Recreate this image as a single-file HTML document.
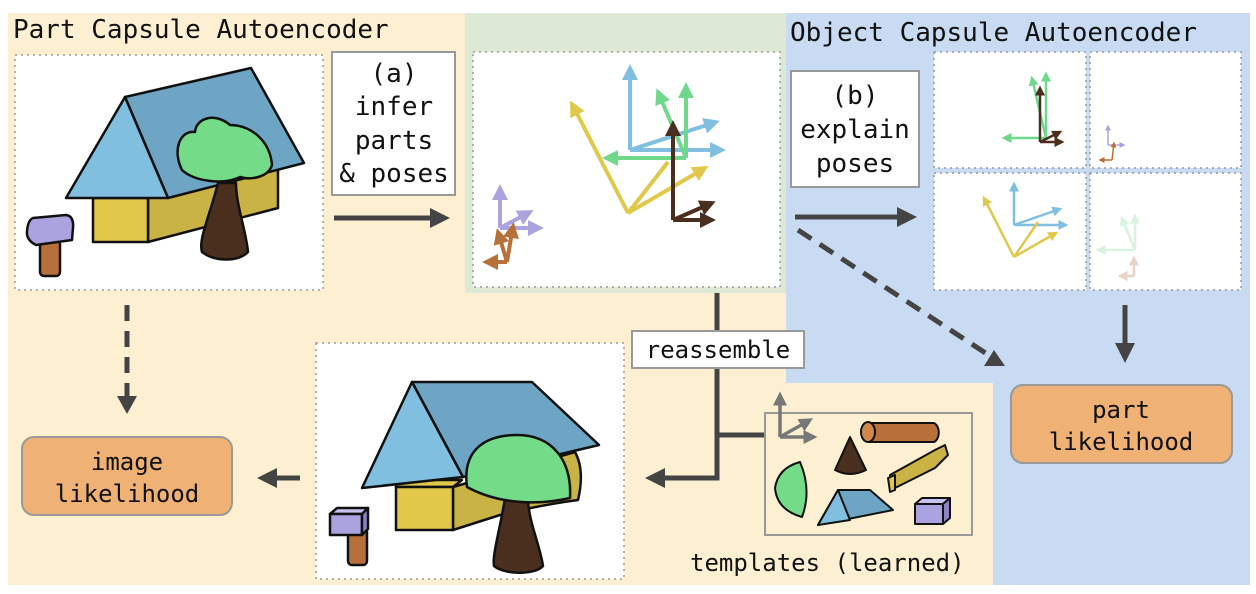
<!DOCTYPE html>
<html><head><meta charset="utf-8"><style>
body{margin:0;background:#fff;}
svg{display:block;}
text{font-family:"DejaVu Sans Mono","Liberation Mono",monospace;fill:#111;}
</style></head><body>
<svg width="1256" height="594" viewBox="0 0 1256 594" xmlns="http://www.w3.org/2000/svg">
<defs>
<marker id="mk" markerWidth="4" markerHeight="4" refX="3" refY="2" orient="auto" markerUnits="strokeWidth"><path d="M0,0L4,2L0,4z" fill="#444"/></marker>
<marker id="mb" markerWidth="4" markerHeight="4" refX="3" refY="2" orient="auto" markerUnits="strokeWidth"><path d="M0,0L4,2L0,4z" fill="#80bfe0"/></marker>
<marker id="mg" markerWidth="4" markerHeight="4" refX="3" refY="2" orient="auto" markerUnits="strokeWidth"><path d="M0,0L4,2L0,4z" fill="#6fd88a"/></marker>
<marker id="my" markerWidth="4" markerHeight="4" refX="3" refY="2" orient="auto" markerUnits="strokeWidth"><path d="M0,0L4,2L0,4z" fill="#e0c84a"/></marker>
<marker id="md" markerWidth="4" markerHeight="4" refX="3" refY="2" orient="auto" markerUnits="strokeWidth"><path d="M0,0L4,2L0,4z" fill="#4a2e1e"/></marker>
<marker id="mp" markerWidth="4" markerHeight="4" refX="3" refY="2" orient="auto" markerUnits="strokeWidth"><path d="M0,0L4,2L0,4z" fill="#aba3e0"/></marker>
<marker id="mo" markerWidth="4" markerHeight="4" refX="3" refY="2" orient="auto" markerUnits="strokeWidth"><path d="M0,0L4,2L0,4z" fill="#b8703a"/></marker>
<marker id="mgf" markerWidth="4" markerHeight="4" refX="3" refY="2" orient="auto" markerUnits="strokeWidth"><path d="M0,0L4,2L0,4z" fill="#d8f3df"/></marker>
<marker id="mof" markerWidth="4" markerHeight="4" refX="3" refY="2" orient="auto" markerUnits="strokeWidth"><path d="M0,0L4,2L0,4z" fill="#e8d3c6"/></marker>
<marker id="mgr" markerWidth="4" markerHeight="4" refX="3" refY="2" orient="auto" markerUnits="strokeWidth"><path d="M0,0L4,2L0,4z" fill="#777"/></marker>
</defs>
<rect x="8" y="13" width="1242" height="572" fill="#fdf0d2"/>
<rect x="465" y="13" width="321" height="280" fill="#dde8d5"/>
<path d="M786,13H1250V585H993V383H786Z" fill="#c9daf3"/>
<text x="13" y="38" font-size="26">Part Capsule Autoencoder</text>
<text x="790" y="41" font-size="26">Object Capsule Autoencoder</text>

<rect x="15" y="55" width="308" height="235" fill="#fff" stroke="#999" stroke-dasharray="2,4" stroke-width="1.5"/>
<g stroke="#111" stroke-width="2.5" stroke-linejoin="round">
<polygon points="148,198 278,163 278,208 148,242" fill="#c9b344"/>
<rect x="93" y="198" width="55" height="44" fill="#e2c84a"/>
<polygon points="125,97 251,68 304,163 168,198" fill="#6fa5c4"/>
<polygon points="66,198 125,97 168,198" fill="#80bfe0"/>
<path d="M218,183 C210,215 198,240 202,252 C215,262 238,262 248,252 C246,230 236,205 236,183Z" fill="#4a2e1e"/>
<path d="M182,170 C172,150 180,130 195,132 C196,118 215,112 230,125 C250,125 270,140 272,165 C268,178 250,180 240,177 C225,185 195,182 182,170Z" fill="#74dc88"/>
<rect x="40" y="240" width="20" height="36" rx="4" fill="#b8703a"/>
<path d="M33,218 L66,215 Q74,216 73,228 L72,240 L36,245 Q26,240 27,231 Q28,220 33,218Z" fill="#aba3e0"/>
</g>

<rect x="332" y="52" width="123" height="143" fill="#fff" stroke="#999" stroke-width="2"/>
<text font-size="26" text-anchor="middle"><tspan x="394" y="82">(a)</tspan><tspan x="394" y="115">infer</tspan><tspan x="394" y="149">parts</tspan><tspan x="394" y="182">&amp; poses</tspan></text>
<line x1="334" y1="218" x2="445" y2="218" stroke="#444" stroke-width="5" marker-end="url(#mk)"/>

<rect x="473" y="52" width="307" height="235" fill="#fff" stroke="#999" stroke-dasharray="2,4" stroke-width="1.5"/>
<g stroke-width="4" fill="none">
<line x1="630" y1="150" x2="630" y2="68" stroke="#80bfe0" marker-end="url(#mb)"/>
<line x1="630" y1="150" x2="722" y2="150" stroke="#80bfe0" marker-end="url(#mb)"/>
<line x1="630" y1="150" x2="716" y2="122" stroke="#80bfe0" marker-end="url(#mb)"/>
<line x1="628" y1="213" x2="572" y2="104" stroke="#e0c84a" marker-end="url(#my)"/>
<line x1="628" y1="213" x2="705" y2="168" stroke="#e0c84a" marker-end="url(#my)"/>
<line x1="628" y1="213" x2="668" y2="162" stroke="#e0c84a"/>
<line x1="686" y1="158" x2="606" y2="158" stroke="#6fd88a" marker-end="url(#mg)"/>
<line x1="686" y1="158" x2="686" y2="86" stroke="#6fd88a" marker-end="url(#mg)"/>
<line x1="686" y1="158" x2="658" y2="92" stroke="#6fd88a" marker-end="url(#mg)"/>
<line x1="673" y1="220" x2="673" y2="124" stroke="#4a2e1e" marker-end="url(#md)"/>
<line x1="673" y1="220" x2="712" y2="220" stroke="#4a2e1e" marker-end="url(#md)"/>
<line x1="673" y1="220" x2="712" y2="203" stroke="#4a2e1e" marker-end="url(#md)"/>
<line x1="500" y1="228" x2="500" y2="188" stroke="#aba3e0" marker-end="url(#mp)"/>
<line x1="500" y1="228" x2="540" y2="228" stroke="#aba3e0" marker-end="url(#mp)"/>
<line x1="500" y1="228" x2="530" y2="212" stroke="#aba3e0" marker-end="url(#mp)"/>
<line x1="507" y1="262" x2="486" y2="262" stroke="#b8703a" marker-end="url(#mo)"/>
<line x1="507" y1="262" x2="513" y2="226" stroke="#b8703a" marker-end="url(#mo)"/>
<line x1="507" y1="262" x2="498" y2="232" stroke="#b8703a" marker-end="url(#mo)"/>
</g>

<rect x="791" y="71" width="128" height="116" fill="#fff" stroke="#999" stroke-width="2"/>
<text font-size="26" text-anchor="middle"><tspan x="855" y="104">(b)</tspan><tspan x="855" y="138">explain</tspan><tspan x="855" y="172">poses</tspan></text>
<line x1="795" y1="217" x2="912" y2="217" stroke="#444" stroke-width="5" marker-end="url(#mk)"/>
<line x1="798" y1="230" x2="990" y2="356" stroke="#444" stroke-width="5" stroke-dasharray="16,10"/>
<polygon points="1005,366 984,366 994,350" fill="#444"/>

<g fill="#fff" stroke="#999" stroke-dasharray="2,4" stroke-width="1.5">
<rect x="934" y="52" width="152" height="116"/><rect x="1090" y="52" width="151" height="116"/>
<rect x="934" y="173" width="152" height="117"/><rect x="1090" y="173" width="151" height="117"/>
</g>
<g stroke-width="2.5" fill="none">
<line x1="1046" y1="138" x2="1004" y2="138" stroke="#6fd88a" marker-end="url(#mg)"/>
<line x1="1046" y1="138" x2="1046" y2="74" stroke="#6fd88a" marker-end="url(#mg)"/>
<line x1="1046" y1="138" x2="1032" y2="78" stroke="#6fd88a" marker-end="url(#mg)"/>
<line x1="1040" y1="142" x2="1040" y2="88" stroke="#4a2e1e" marker-end="url(#md)"/>
<line x1="1040" y1="142" x2="1062" y2="142" stroke="#4a2e1e" marker-end="url(#md)"/>
<line x1="1040" y1="142" x2="1060" y2="132" stroke="#4a2e1e" marker-end="url(#md)"/>
<line x1="1108" y1="145" x2="1108" y2="126" stroke="#aba3e0" stroke-width="1.5" marker-end="url(#mp)"/>
<line x1="1108" y1="145" x2="1124" y2="145" stroke="#aba3e0" stroke-width="1.5" marker-end="url(#mp)"/>
<line x1="1112" y1="160" x2="1100" y2="160" stroke="#b8703a" stroke-width="1.5" marker-end="url(#mo)"/>
<line x1="1112" y1="160" x2="1114" y2="143" stroke="#b8703a" stroke-width="1.5" marker-end="url(#mo)"/>
<line x1="1014" y1="225" x2="1014" y2="184" stroke="#80bfe0" marker-end="url(#mb)"/>
<line x1="1014" y1="225" x2="1066" y2="225" stroke="#80bfe0" marker-end="url(#mb)"/>
<line x1="1014" y1="225" x2="1060" y2="209" stroke="#80bfe0" marker-end="url(#mb)"/>
<line x1="1014" y1="257" x2="984" y2="198" stroke="#e0c84a" marker-end="url(#my)"/>
<line x1="1014" y1="257" x2="1056" y2="233" stroke="#e0c84a" marker-end="url(#my)"/>
<line x1="1014" y1="257" x2="1038" y2="222" stroke="#e0c84a"/>
<line x1="1135" y1="250" x2="1098" y2="250" stroke="#d8f3df" marker-end="url(#mgf)"/>
<line x1="1135" y1="250" x2="1135" y2="216" stroke="#d8f3df" marker-end="url(#mgf)"/>
<line x1="1135" y1="250" x2="1122" y2="218" stroke="#d8f3df" marker-end="url(#mgf)"/>
<line x1="1134" y1="276" x2="1120" y2="276" stroke="#e8d3c6" marker-end="url(#mof)"/>
<line x1="1134" y1="276" x2="1134" y2="258" stroke="#e8d3c6" marker-end="url(#mof)"/>
</g>

<line x1="1125" y1="305" x2="1125" y2="358" stroke="#444" stroke-width="5" marker-end="url(#mk)"/>
<rect x="1011" y="385" width="221" height="78" rx="12" fill="#efb174" stroke="#999" stroke-width="2"/>
<text font-size="24" text-anchor="middle"><tspan x="1121" y="418">part</tspan><tspan x="1121" y="450">likelihood</tspan></text>

<line x1="127" y1="305" x2="127" y2="398" stroke="#444" stroke-width="5" stroke-dasharray="16,10"/>
<polygon points="117,396 137,396 127,414" fill="#444"/>
<rect x="22" y="437" width="210" height="78" rx="12" fill="#efb174" stroke="#999" stroke-width="2"/>
<text font-size="24" text-anchor="middle"><tspan x="127" y="470">image</tspan><tspan x="127" y="502">likelihood</tspan></text>
<line x1="300" y1="478" x2="262" y2="478" stroke="#444" stroke-width="5" marker-end="url(#mk)"/>

<rect x="316" y="343" width="308" height="236" fill="#fff" stroke="#999" stroke-dasharray="2,4" stroke-width="1.5"/>
<g stroke="#111" stroke-width="2.5" stroke-linejoin="round">
<path d="M453,487 L575,452 Q585,470 578,500 Q540,505 500,515 L453,530Z" fill="#c9b344"/>
<polygon points="396,487 453,487 462,480 396,480" fill="#e2c84a"/>
<rect x="396" y="487" width="57" height="43" fill="#e2c84a"/>
<polygon points="412,382 532,382 599,445 463,477" fill="#6fa5c4"/>
<polygon points="362,488 412,382 463,477" fill="#80bfe0"/>
<path d="M505,498 C500,530 492,555 494,566 C505,575 535,575 543,566 C540,545 528,520 528,498Z" fill="#4a2e1e"/>
<path d="M467,487 C462,450 485,435 517,435 C552,435 572,460 570,498 C540,505 500,505 467,487Z" fill="#74dc88"/>
<rect x="348" y="528" width="19" height="37" rx="4" fill="#b8703a"/>
<polygon points="330,514 362,514 368,508 337,508" fill="#c7c1ef"/>
<rect x="330" y="514" width="32" height="21" fill="#aba3e0"/>
<polygon points="362,514 368,508 368,529 362,535" fill="#8c84c4"/>
</g>

<path d="M717,293V478H650" fill="none" stroke="#444" stroke-width="5" marker-end="url(#mk)"/>
<line x1="717" y1="435" x2="766" y2="435" stroke="#444" stroke-width="5"/>
<rect x="632" y="331" width="172" height="37" fill="#fff" stroke="#999" stroke-width="2"/>
<text x="718" y="358" font-size="24" text-anchor="middle">reassemble</text>

<rect x="765" y="413" width="207" height="122" fill="none" stroke="#999" stroke-width="2"/>
<g stroke="#777" stroke-width="3.5">
<line x1="780" y1="437" x2="780" y2="395" marker-end="url(#mgr)"/>
<line x1="780" y1="437" x2="814" y2="437" marker-end="url(#mgr)"/>
<line x1="780" y1="437" x2="810" y2="420" marker-end="url(#mgr)"/>
</g>
<g stroke="#111" stroke-width="2" stroke-linejoin="round">
<path d="M868,423 H934 A7,10 0 0 1 934,442 H868Z" fill="#b8703a"/>
<ellipse cx="868" cy="432" rx="7" ry="10" fill="#d08850"/>
<path d="M850,437 L835,470 Q850,478 866,470Z" fill="#4a2e1e"/>
<path d="M800,462 Q812,490 802,517 Q777,510 775,488 Q778,468 800,462Z" fill="#74dc88"/>
<polygon points="890,475 935,450 945,445 948,455 935,468 895,488" fill="#c9b344"/>
<polygon points="888,478 895,475 895,490 890,492" fill="#e2c84a"/>
<polygon points="818,525 838,490 870,490 893,510" fill="#6fa5c4"/>
<polygon points="818,525 838,490 850,520" fill="#80bfe0"/>
<rect x="915" y="504" width="28" height="20" fill="#aba3e0"/>
<polygon points="915,504 922,498 950,498 943,504" fill="#c7c1ef"/>
<polygon points="943,504 950,498 950,518 943,524" fill="#8c84c4"/>
</g>
<text x="690" y="571" font-size="24">templates (learned)</text>
</svg>
</body></html>
